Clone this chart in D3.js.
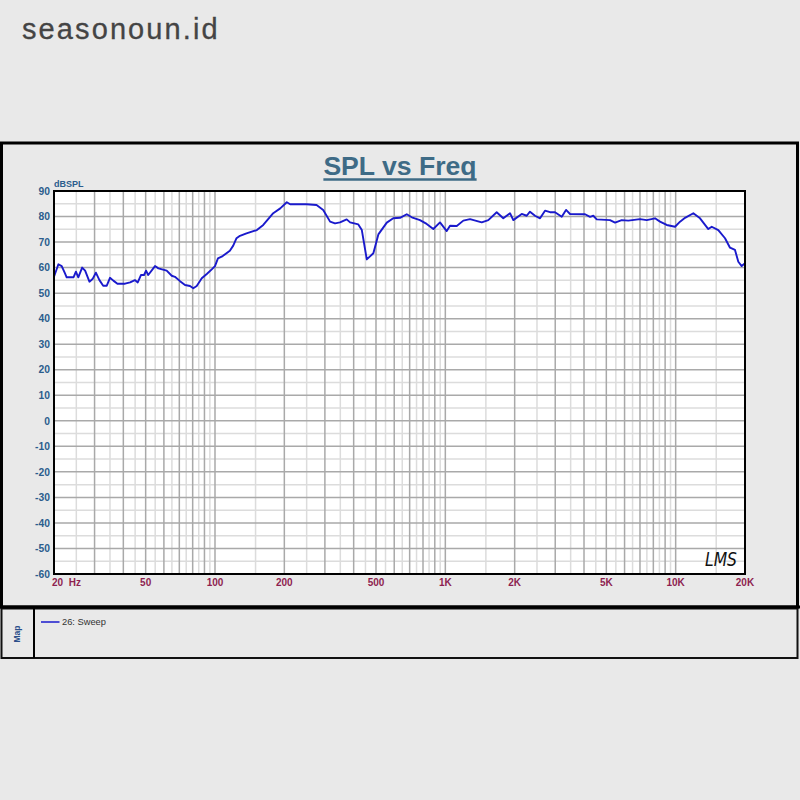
<!DOCTYPE html>
<html>
<head>
<meta charset="utf-8">
<script src="https://cdn.jsdelivr.net/npm/d3@7"></script>
<style>
  html, body { margin: 0; padding: 0; background: #e9e9e9; }
  svg { display: block; }
</style>
</head>
<body>
<div id="chart"></div>
<script>
// ---- Data (frequency in Hz, level in dB SPL) ----
const freqs = [20, 20.9, 21.6, 22.3, 22.7, 24.3, 24.9, 25.5, 26.5, 27.3, 28.5, 29.4, 30.4, 31.5, 32.7, 33.9,
  35.0, 36.2, 37.7, 40.7, 42.8, 44.9, 46.2, 47.7, 49.2, 50.2, 51.3, 54.9, 56.8, 61.7, 64.9, 67.0, 70.5,
  74.1, 77.9, 80.5, 83.3, 87.6, 92.1, 96.8, 100, 103, 108, 116, 120, 124, 127.5, 137, 152, 162, 179,
  192, 205, 212, 250, 276, 295, 316, 332, 349, 373, 386, 419, 434, 456, 487, 512, 557, 594, 636, 680,
  715, 776, 830, 887, 948, 1014, 1048, 1121, 1197, 1280, 1439, 1537, 1671, 1785, 1909, 1973, 2146, 2256,
  2331, 2451, 2577, 2709, 2848, 2994, 3202, 3342, 3479, 4042, 4249, 4390, 4542, 5188, 5454, 5830, 6228,
  7003, 7487, 8134, 8551, 9142, 9938, 10447, 10984, 11932, 12759, 13860, 14342, 15316, 16380, 17218,
  18097, 18707, 19353, 20000];
const spl = [56.4, 61.3, 60.6, 57.8, 56.2, 56.2, 58.4, 56.2, 60.0, 58.8, 54.5, 55.5, 58.0, 55.1, 52.9, 52.9,
  56.0, 54.9, 53.7, 53.7, 54.2, 55.1, 54.2, 57.1, 57.1, 58.8, 57.1, 60.6, 59.7, 58.8, 56.8, 56.4, 54.7,
  53.2, 52.8, 51.9, 52.8, 55.8, 57.5, 59.3, 60.6, 63.6, 64.5, 66.6, 68.6, 71.5, 72.3, 73.4, 74.7, 76.7, 81.3,
  83.2, 85.6, 84.8, 84.8, 84.5, 82.6, 78.0, 77.3, 77.7, 78.9, 77.7, 76.9, 74.7, 63.2, 65.6, 73.0, 77.6, 79.3,
  79.5, 80.9, 79.7, 78.6, 77.1, 75.1, 77.7, 74.3, 76.4, 76.3, 78.4, 79.0, 77.7, 78.6, 81.7, 79.3, 81.3, 78.6,
  81.0, 80.3, 81.9, 80.3, 79.3, 82.3, 81.7, 81.7, 79.9, 82.6, 81.0, 80.9, 79.9, 80.3, 78.9, 78.6, 77.6,
  78.6, 78.4, 79.0, 78.6, 79.3, 78.0, 76.7, 76.0, 78.0, 79.5, 81.3, 79.3, 75.1, 76.0, 74.7, 71.5, 67.8,
  66.9, 62.3, 60.6, 61.7];

const xTickValues = [20, 50, 100, 200, 500, 1000, 2000, 5000, 10000, 20000];
const xTickLabels = ["20  Hz", "50", "100", "200", "500", "1K", "2K", "5K", "10K", "20K"];
const yTickValues = [90, 80, 70, 60, 50, 40, 30, 20, 10, 0, -10, -20, -30, -40, -50, -60];
const yTickLabels = ["90", "80", "70", "60", "50", "40", "30", "20", "10", "0", "-10", "-20", "-30", "-40", "-50", "-60"];
const seriesName = "26: Sweep";
const chartTitle = "SPL vs Freq";
const yUnit = "dBSPL";
const watermark = "seasonoun.id";

// ---- Layout ----
const W = 800, H = 800;
const plot = { left: 54, right: 745, top: 191, bottom: 574 };

const svg = d3.select("#chart").append("svg")
  .attr("width", W).attr("height", H)
  .style("font-family", "'Liberation Sans', Arial, sans-serif");

svg.append("rect").attr("width", W).attr("height", H).attr("fill", "#e9e9e9");

// watermark
svg.append("text").attr("x", 22).attr("y", 38.5)
  .attr("font-size", 29).attr("letter-spacing", 2.1).attr("fill", "#444")
  .attr("stroke", "#444").attr("stroke-width", 0.3)
  .text(watermark);

// main panel frame
svg.append("rect").attr("x", 1.5).attr("y", 143).attr("width", 796).attr("height", 464)
  .attr("fill", "#e9e9e9").attr("stroke", "#000").attr("stroke-width", 3);
// legend panel
svg.append("rect").attr("x", 1.5).attr("y", 608.5).attr("width", 796).attr("height", 49.5)
  .attr("fill", "#e9e9e9").attr("stroke", "#111").attr("stroke-width", 2);
svg.append("line").attr("x1", 0).attr("x2", 800).attr("y1", 607).attr("y2", 607)
  .attr("stroke", "#000").attr("stroke-width", 3);
svg.append("line").attr("x1", 34).attr("x2", 34).attr("y1", 608).attr("y2", 658)
  .attr("stroke", "#000").attr("stroke-width", 2);

// title
const title = svg.append("text").attr("x", 400).attr("y", 175)
  .attr("text-anchor", "middle").attr("font-size", 26.6).attr("font-weight", "bold")
  .attr("fill", "#3e6b86").text(chartTitle);
const tw = title.node().getComputedTextLength();
svg.append("line").attr("x1", 400 - tw / 2).attr("x2", 400 + tw / 2)
  .attr("y1", 179.5).attr("y2", 179.5).attr("stroke", "#3e6b86").attr("stroke-width", 2.5);

// scales
const x = d3.scaleLog().domain([20, 20000]).range([plot.left, plot.right]);
const y = d3.scaleLinear().domain([-60, 90]).range([plot.bottom, plot.top]);

// plot background
svg.append("rect").attr("x", plot.left).attr("y", plot.top)
  .attr("width", plot.right - plot.left).attr("height", plot.bottom - plot.top)
  .attr("fill", "#fff");

// grid lines
const majorX = [], minorX = [];
[10, 100, 1000, 10000].forEach(b => {
  for (let m = 1; m <= 9; m++) {
    const v = m * b, h = (m + 0.5) * b;
    if (v >= 20 && v <= 20000) majorX.push(v);
    if (h >= 20 && h < 20000) minorX.push(h);
  }
});
const minorY = d3.range(-55, 90, 10);
const g = svg.append("g");
g.selectAll(".mnx").data(minorX).join("line")
  .attr("x1", d => x(d)).attr("x2", d => x(d)).attr("y1", plot.top).attr("y2", plot.bottom)
  .attr("stroke", "#dcdcdc").attr("stroke-width", 1.5);
g.selectAll(".mny").data(minorY).join("line")
  .attr("x1", plot.left).attr("x2", plot.right).attr("y1", d => y(d)).attr("y2", d => y(d))
  .attr("stroke", "#dcdcdc").attr("stroke-width", 1.5);
g.selectAll(".mjx").data(majorX).join("line")
  .attr("x1", d => x(d)).attr("x2", d => x(d)).attr("y1", plot.top).attr("y2", plot.bottom)
  .attr("stroke", "#a9a9a9").attr("stroke-width", 1.5);
g.selectAll(".mjy").data(yTickValues).join("line")
  .attr("x1", plot.left).attr("x2", plot.right).attr("y1", d => y(d)).attr("y2", d => y(d))
  .attr("stroke", "#a9a9a9").attr("stroke-width", 1.5);

// curve
svg.append("clipPath").attr("id", "clip").append("rect")
  .attr("x", plot.left).attr("y", plot.top)
  .attr("width", plot.right - plot.left).attr("height", plot.bottom - plot.top);
const line = d3.line().x((d, i) => x(freqs[i])).y(d => y(d));
svg.append("path").datum(spl).attr("clip-path", "url(#clip)")
  .attr("d", line).attr("fill", "none")
  .attr("stroke", "#1a1acc").attr("stroke-width", 1.9).attr("stroke-linejoin", "round");

// plot border
svg.append("rect").attr("x", plot.left).attr("y", plot.top)
  .attr("width", plot.right - plot.left).attr("height", plot.bottom - plot.top)
  .attr("fill", "none").attr("stroke", "#000").attr("stroke-width", 2);

// y tick labels
svg.selectAll(".yl").data(yTickValues).join("text")
  .attr("x", 50).attr("y", d => y(d) + 3.7)
  .attr("text-anchor", "end").attr("font-size", 10.3).attr("font-weight", "bold")
  .attr("fill", "#2b5d8d").text((d, i) => yTickLabels[i]);
svg.append("text").attr("x", 54).attr("y", 186.5)
  .attr("font-size", 9).attr("font-weight", "bold").attr("fill", "#2b5d8d").text(yUnit);

// x tick labels
svg.selectAll(".xl").data(xTickValues).join("text")
  .attr("x", (d, i) => i === 0 ? 52 : x(d))
  .attr("y", 586)
  .attr("text-anchor", (d, i) => i === 0 ? "start" : "middle")
  .attr("font-size", 10).attr("font-weight", "bold").attr("fill", "#8e1f50")
  .style("white-space", "pre")
  .text((d, i) => xTickLabels[i]);

// LMS mark
svg.append("text").attr("x", 705).attr("y", 566)
  .attr("font-size", 19).attr("font-style", "italic")
  .attr("font-family", "'DejaVu Sans', sans-serif").attr("font-weight", "normal")
  .attr("textLength", 32).attr("lengthAdjust", "spacingAndGlyphs")
  .attr("fill", "#111").text("LMS");

// legend
svg.append("text").attr("transform", "translate(20,634) rotate(-90)")
  .attr("text-anchor", "middle").attr("font-size", 8.5).attr("font-weight", "bold")
  .attr("fill", "#2b4f8a").text("Map");
svg.append("line").attr("x1", 41).attr("x2", 59.5).attr("y1", 622).attr("y2", 622)
  .attr("stroke", "#1a1acc").attr("stroke-width", 1.5);
svg.append("text").attr("x", 62).attr("y", 625)
  .attr("font-size", 9.3).attr("fill", "#333").text(seriesName);
</script>
</body>
</html>
